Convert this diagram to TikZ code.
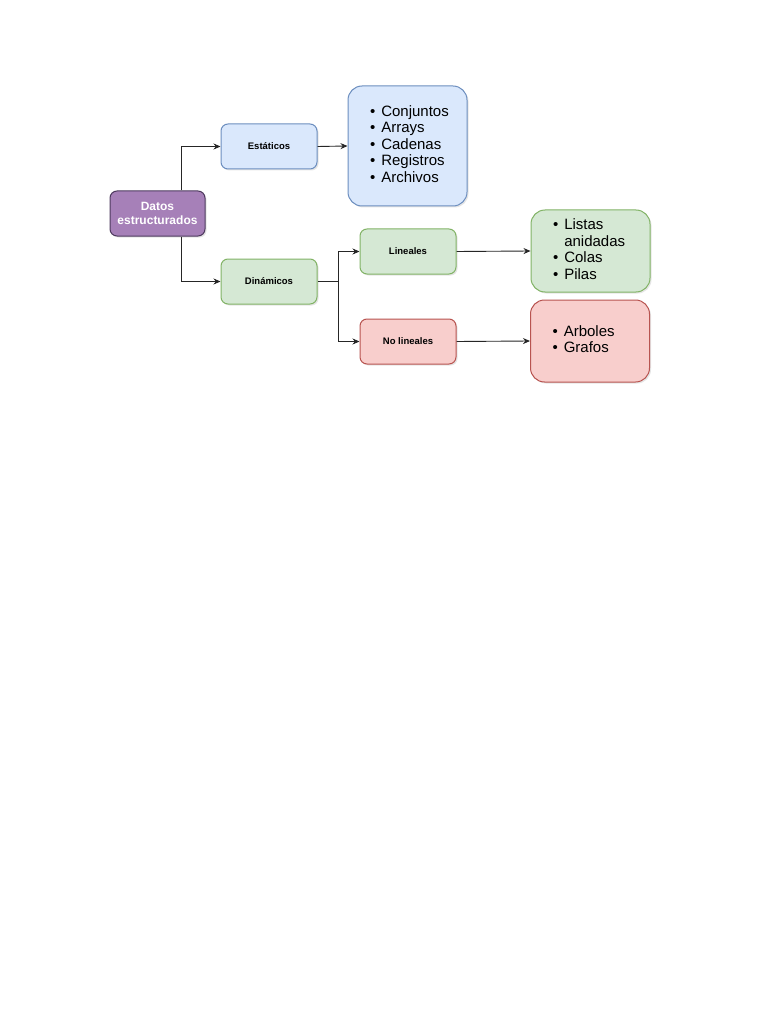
\documentclass[tikz,border=0pt]{standalone}
\usepackage{fontspec}
\setmainfont{Liberation Sans}
\usetikzlibrary{arrows.meta,positioning,shadows}

\definecolor{lilafill}{HTML}{A680B8}
\definecolor{lilaline}{HTML}{4E3A5E}
\definecolor{azulfill}{HTML}{DAE8FC}
\definecolor{azulline}{HTML}{6C8EBF}
\definecolor{verdefill}{HTML}{D5E8D4}
\definecolor{verdeline}{HTML}{82B366}
\definecolor{rojofill}{HTML}{F8CECC}
\definecolor{rojoline}{HTML}{B85450}

\tikzset{
  box/.style={draw, line width=1pt, rounded corners=7pt,
    minimum width=96pt, minimum height=45pt, inner sep=0pt, align=center,
    font=\fontsize{9.5}{11}\selectfont\bfseries,
    drop shadow={shadow xshift=1.5pt, shadow yshift=-1.5pt, opacity=0.2}},
  listbox/.style={draw, line width=1pt, rounded corners=14pt,
    minimum width=119pt, text width=75pt, inner xsep=22pt, inner ysep=0pt, align=left,
    font=\fontsize{15}{16.5}\selectfont,
    drop shadow={shadow xshift=1.5pt, shadow yshift=-1.5pt, opacity=0.2}},
  link/.style={-{Stealth[length=7pt,width=6pt]}, line width=0.9pt, black!85}
}

\begin{document}
\begin{tikzpicture}[x=1pt,y=-1pt]
  \useasboundingbox[fill=white] (0,0) rectangle (768,1024);

  % root
  \node[box, fill=lilafill, draw=lilaline, text=white, minimum width=95pt,
        font=\fontsize{12}{14}\selectfont\bfseries] (datos) at (157.5,213.5)
        {Datos\\estructurados};

  % first level
  \node[box, fill=azulfill, draw=azulline]   (estaticos) at (269,146.5) {Estáticos};
  \node[box, fill=verdefill, draw=verdeline] (dinamicos) at (269,281.5) {Dinámicos};

  % second level
  \node[box, fill=verdefill, draw=verdeline] (lineales)   at (408,251.5) {Lineales};
  \node[box, fill=rojofill, draw=rojoline]   (nolineales) at (408,341.5) {No lineales};

  % lists
  \node[listbox, fill=azulfill, draw=azulline, minimum height=120pt] (lstatic) at (407.5,146)
    {\begin{tabular}{@{}l@{\hspace{6pt}}l@{}}
      \textbullet & Conjuntos\\
      \textbullet & Arrays\\
      \textbullet & Cadenas\\
      \textbullet & Registros\\
      \textbullet & Archivos
    \end{tabular}};
  \node[listbox, fill=verdefill, draw=verdeline, minimum height=82pt] (llineal) at (590.5,251)
    {\begin{tabular}{@{}l@{\hspace{6pt}}l@{}}
      \textbullet & Listas\\
                  & anidadas\\
      \textbullet & Colas\\
      \textbullet & Pilas
    \end{tabular}};
  \node[listbox, fill=rojofill, draw=rojoline, minimum height=82pt] (lnolineal) at (590,341)
    {\begin{tabular}{@{}l@{\hspace{6pt}}l@{}}
      \textbullet & Arboles\\
      \textbullet & Grafos
    \end{tabular}};

  % connectors
  \coordinate (split) at (338,281.5);
  \draw[link] ([xshift=23.5pt]datos.north) |- (estaticos.west);
  \draw[link] ([xshift=23.5pt]datos.south) |- (dinamicos.west);
  \draw[link] (estaticos.east) -- (lstatic.west);
  \draw[line width=0.9pt, black!85] (dinamicos.east) -- (split);
  \draw[link] (split) |- (lineales.west);
  \draw[link] (split) |- (nolineales.west);
  \draw[link] (lineales.east) -- (llineal.west);
  \draw[link] (nolineales.east) -- (lnolineal.west);
\end{tikzpicture}
\end{document}
